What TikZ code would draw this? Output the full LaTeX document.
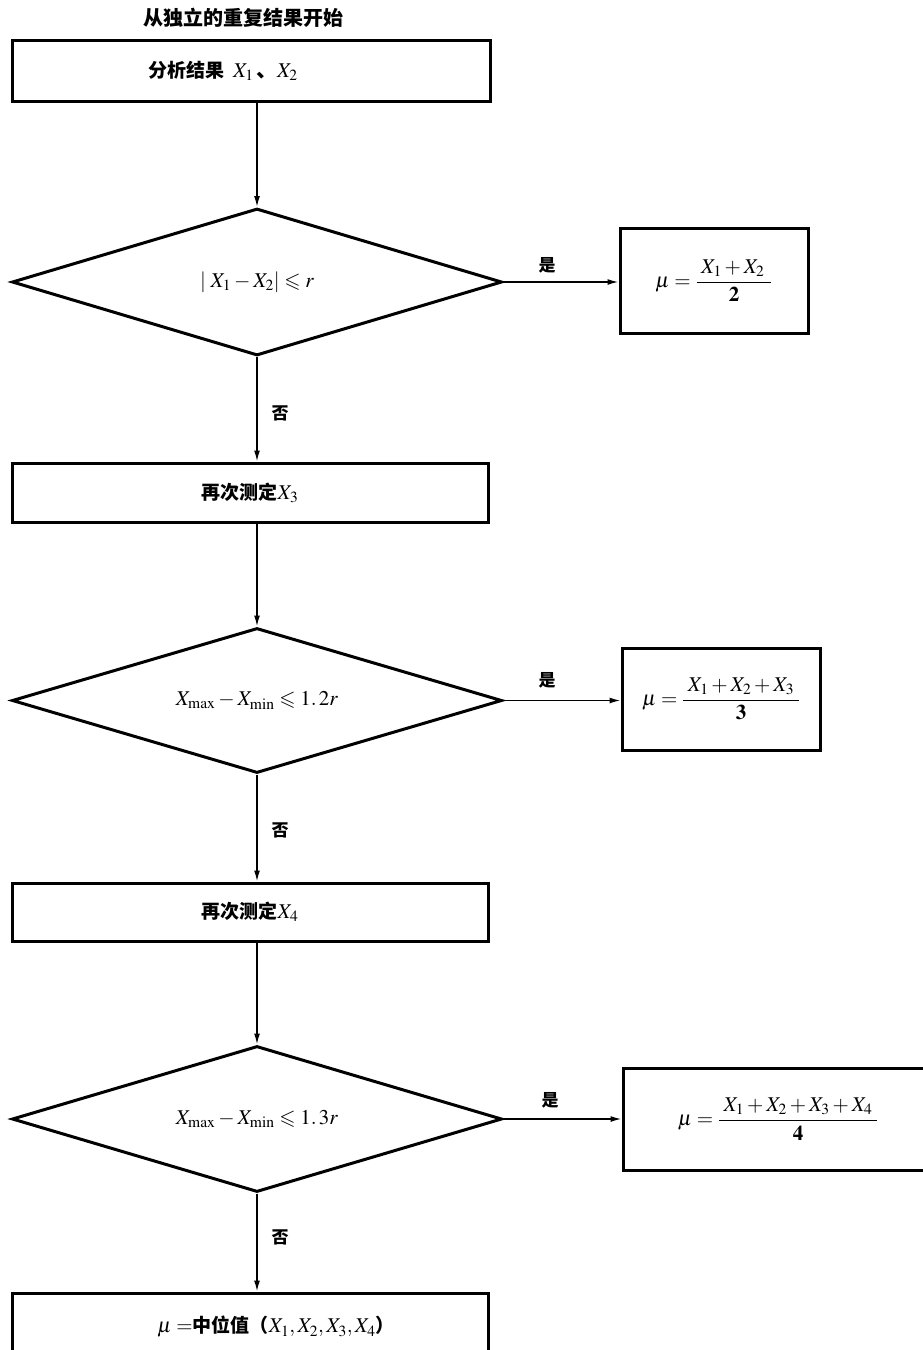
\documentclass[tikz,border=0pt]{standalone}
\usepackage{amsmath}
\usepackage{amssymb}
\usepackage{mathptmx}
\usepackage{fontspec}
\setmainfont{Liberation Serif}
\newfontfamily\cjk{Noto Sans CJK SC}
\usetikzlibrary{shapes.geometric,arrows.meta}
\begin{document}
\begin{tikzpicture}[x=1pt,y=-1pt,
  box/.style={draw, line width=3pt, inner sep=0pt, font=\fontsize{21}{25}\selectfont},
  dia/.style={draw, diamond, aspect=3.36, line width=3pt, inner sep=0pt, font=\fontsize{21}{25}\selectfont},
  txt/.style={inner sep=0pt, font=\cjk\bfseries\fontsize{19}{22}\selectfont},
  lab/.style={inner sep=0pt, font=\cjk\bfseries\fontsize{17}{20}\selectfont},
  arr/.style={line width=1.5pt, -{Latex[length=11pt,width=6pt]}}
]
\useasboundingbox (0,0) rectangle (923,1350);
\clip (0,0) rectangle (923,1350);

\node[txt, font=\cjk\bfseries\fontsize{20}{24}\selectfont] (title) at (243,18) {从独立的重复结果开始};

\node[box, minimum width=478pt, minimum height=61pt] (b1) at (251,70.5) {};
\node[txt] (b1t) at (223,71) {分析结果\ \ \fontsize{21}{25}\selectfont$X_1\,$、$X_2$};

\node[dia, minimum width=490pt, minimum height=147pt] (d1) at (257,282)
  {$\left|\;X_1 - X_2\right| \leqslant r$};

\node[box, minimum width=188pt, minimum height=105pt] (r1) at (714,280.5)
  {$\mu=\dfrac{\;X_1+X_2\;\,}{\mathbf{2}}$};

\node[box, minimum width=476pt, minimum height=59pt] (b2) at (250,492.5)
  {\cjk\bfseries\fontsize{19}{22}\selectfont 再次测定\fontsize{21}{25}\selectfont$X_3$};

\node[dia, minimum width=490pt, minimum height=145pt] (d2) at (257,700.5)
  {$X_{\max}-X_{\min}\leqslant 1.\,2r$};

\node[box, minimum width=198pt, minimum height=102pt] (r2) at (721,699)
  {$\mu=\dfrac{\;X_1+X_2+X_3\;}{\mathbf{3}}$};

\node[box, minimum width=476pt, minimum height=58pt] (b3) at (250,912)
  {\cjk\bfseries\fontsize{19}{22}\selectfont 再次测定\fontsize{21}{25}\selectfont$X_4$};

\node[dia, minimum width=490pt, minimum height=146pt] (d3) at (257,1119)
  {$X_{\max}-X_{\min}\leqslant 1.\,3r$};

\node[box, minimum width=310pt, minimum height=102pt] (r3) at (778,1119)
  {$\mu=\dfrac{\;X_1+X_2+X_3+X_4\;}{\mathbf{4}}$};

\node[box, minimum width=476pt, minimum height=72pt] (b4) at (250,1329) {};
\node[txt] (b4t) at (276,1327) {\fontsize{21}{25}\selectfont$\mu=$\fontsize{19}{22}\selectfont 中位值（\fontsize{21}{25}\selectfont$X_1,X_2,X_3,X_4$\fontsize{19}{22}\selectfont ）};

\draw[arr] (d1.north |- b1.south) -- (d1.north);
\draw[arr] (d1.east) -- (d1.east -| r1.west);
\draw[arr] (d1.south) -- (d1.south |- b2.north);
\draw[arr] (d2.north |- b2.south) -- (d2.north);
\draw[arr] (d2.east) -- (d2.east -| r2.west);
\draw[arr] (d2.south) -- (d2.south |- b3.north);
\draw[arr] (d3.north |- b3.south) -- (d3.north);
\draw[arr] (d3.east) -- (d3.east -| r3.west);
\draw[arr] (d3.south) -- (d3.south |- b4.north);

\node[lab] (y1) at (547,265) {是};
\node[lab] (y2) at (547,680) {是};
\node[lab] (y3) at (550,1100) {是};
\node[lab] (n1) at (280,413) {否};
\node[lab] (n2) at (280,830) {否};
\node[lab] (n3) at (280,1237) {否};
\end{tikzpicture}
\end{document}
